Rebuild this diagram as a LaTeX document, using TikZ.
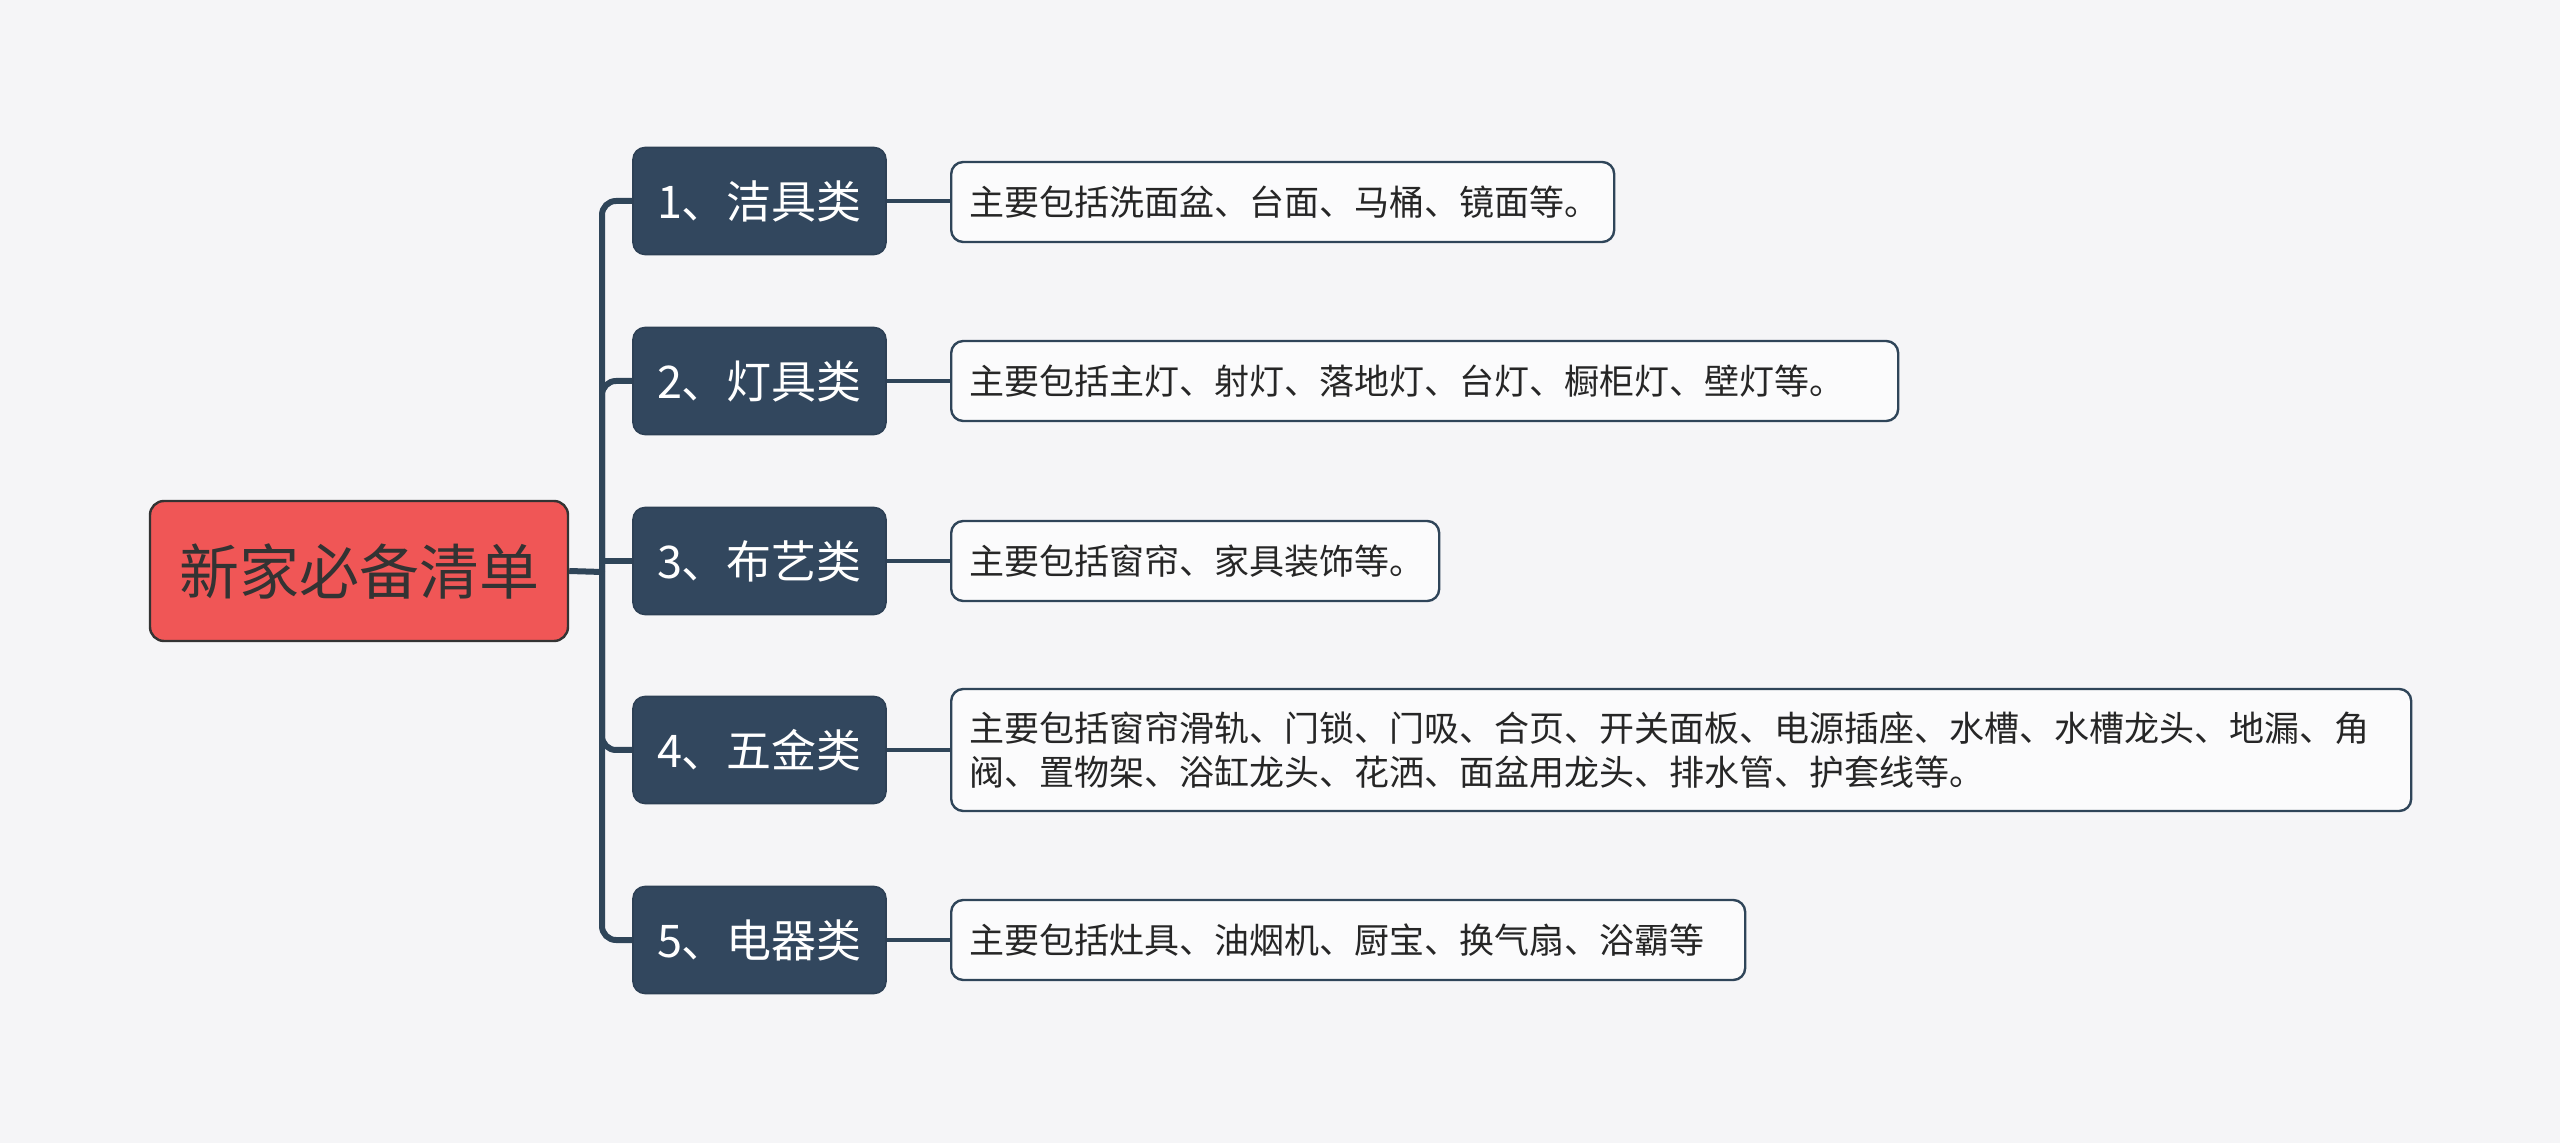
\documentclass[tikz,border=0pt]{standalone}
\usepackage{fontspec}
\newfontfamily\cjk{Noto Sans CJK SC}
\usetikzlibrary{positioning}
\definecolor{bgcol}{HTML}{F5F5F7}
\definecolor{rootred}{HTML}{F05656}
\definecolor{navy}{HTML}{32475E}
\definecolor{linkcol}{HTML}{2F4559}
\definecolor{inkgray}{HTML}{333333}

\begin{document}
\begin{tikzpicture}[x=0.5pt, y=-0.5pt, font=\cjk,
  rootbox/.style={draw=inkgray, line width=1.2pt, fill=rootred, rounded corners=7pt, text=inkgray,
    minimum width=209pt, minimum height=70pt, inner sep=0pt, font=\cjk\fontsize{30pt}{36pt}\selectfont},
  catbox/.style={draw=navy!90!black, line width=0.8pt, fill=navy, rounded corners=6pt, text=white,
    minimum width=126.5pt, minimum height=53.5pt, inner sep=0pt, font=\cjk\fontsize{22.5pt}{27pt}\selectfont},
  leafbox/.style={draw=linkcol, line width=1.2pt, fill=white!60!bgcol, rounded corners=6pt, text=black!85,
    anchor=west, minimum height=40pt, inner xsep=9pt, inner ysep=0pt, align=left,
    font=\cjk\fontsize{17.5pt}{22pt}\selectfont},
  link/.style={draw=linkcol, line width=3pt},
  leaflink/.style={draw=linkcol, line width=2.2pt}]
% background
\fill[bgcol] (0,0) rectangle (2560,1143);
\useasboundingbox (0,0) rectangle (2560,1143);

% root
\node[rootbox] (root) at (359,571) {新家必备清单};

% categories
\node[catbox] (c1) at (759.5,201) {1、洁具类};
\node[catbox] (c2) at (759.5,381) {2、灯具类};
\node[catbox] (c3) at (759.5,561) {3、布艺类};
\node[catbox] (c4) at (759.5,750) {4、五金类};
\node[catbox] (c5) at (759.5,940) {5、电器类};

% details
\node[leafbox, text width=313.5pt] (d1) at (950,202) {主要包括洗面盆、台面、马桶、镜面等。};
\node[leafbox, text width=455.5pt] (d2) at (950,381) {主要包括主灯、射灯、落地灯、台灯、橱柜灯、壁灯等。};
\node[leafbox, text width=226pt] (d3) at (950,561) {主要包括窗帘、家具装饰等。};
\node[leafbox, text width=712pt, minimum height=61pt] (d4) at (950,750) {主要包括窗帘滑轨、门锁、门吸、合页、开关面板、电源插座、水槽、水槽龙头、地漏、角\\阀、置物架、浴缸龙头、花洒、面盆用龙头、排水管、护套线等。};
\node[leafbox, text width=379pt] (d5) at (950,940) {主要包括灶具、油烟机、厨宝、换气扇、浴霸等};

% tree links
\coordinate (hub) at (602,572);
\draw[link] (root.east) -- (hub);
\foreach \i in {1,2,4,5}
  \draw[link, rounded corners=7pt] (hub) |- (c\i.west);
\draw[link] (hub) |- (c3.west);
\foreach \i in {1,...,5}
  \draw[leaflink] (c\i.east) -- (c\i.east -| d\i.west);
\end{tikzpicture}
\end{document}
